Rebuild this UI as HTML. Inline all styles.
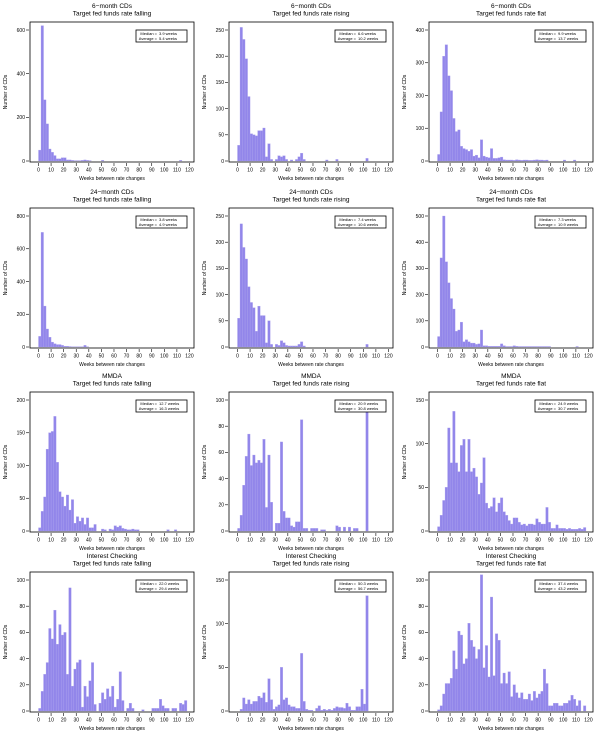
<!DOCTYPE html>
<html><head><meta charset="utf-8"><style>
html,body{margin:0;padding:0;background:#fff;}
svg{display:block;font-family:"Liberation Sans",sans-serif;}
</style></head><body>
<svg id="chart" width="600" height="740" viewBox="0 0 600 740" xmlns="http://www.w3.org/2000/svg"></svg>
<script>
const titles1 = ["6\u2212month CDs","6\u2212month CDs","6\u2212month CDs","24\u2212month CDs","24\u2212month CDs","24\u2212month CDs","MMDA","MMDA","MMDA","Interest Checking","Interest Checking","Interest Checking"];
const titles2 = ["Target fed funds rate falling","Target fed funds rate rising","Target fed funds rate flat"];
const medians = ["3.9","6.6","9.9","3.8","7.4","7.3","12.7","20.9","24.9","22.0","50.3","37.4"];
const averages = ["5.4","10.2","13.7","4.9","10.6","10.9","16.3","30.8","30.7","29.4","56.7","43.2"];
const yTickMax = [600,250,400,800,250,500,200,100,150,100,150,100];
const yTickStep = [200,50,100,200,50,100,50,20,50,20,50,20];
const xTicks = [0,10,20,30,40,50,60,70,80,90,100,110,120];
const binWidth = 2;
function pad(a){const r=a.slice();while(r.length<60)r.push(0);return r;}
const counts1 = pad([50,620,280,170,55,40,25,10,10,15,15,5,5,3,2,2,2,3,5,3,2,0,0,0,0,3,0,0,0,0,0,0,0,0,0,0,0,0,0,0,0,0,0,0,0,0,0,0,0,0,0,0,0,0,0,0,3]);
const counts2 = pad([30,255,232,195,123,52,50,48,58,58,63,8,33,3,0,3,10,8,10,3,0,2,0,3,8,15,3,0,0,0,0,0,0,0,0,2,0,0,0,3,0,0,0,0,0,0,0,0,0,0,0,5]);
const counts3 = pad([20,150,320,355,260,215,130,90,95,45,38,35,30,35,15,18,10,65,15,12,10,38,8,8,10,12,4,3,3,3,2,4,3,2,3,3,2,2,3,4,3,3,2,3,0,0,0,0,0,0,3,0,0,0,3]);
const counts4 = pad([65,700,250,110,60,30,20,15,15,10,5,5,3,2,2,2,2,2,10,2]);
const counts5 = pad([55,235,190,168,115,85,75,30,78,60,60,8,50,5,0,5,3,12,8,3,2,2,2,2,5,10,2,0,0,0,0,0,0,0,0,0,0,0,0,0,0,0,0,0,0,0,0,0,0,0,0,5]);
const counts6 = pad([40,340,500,325,245,185,145,60,65,95,20,28,20,15,15,10,12,65,5,5,3,3,3,3,3,12,5,2,2,2,5,3,2,2,2,2,2,2,2,2,2,2,2,2,2,0,0,0,0,0,0,0,0,0,0,2]);
const counts7 = pad([5,30,52,125,150,152,175,105,60,52,38,55,32,48,12,22,15,20,10,20,5,5,10,0,0,3,2,0,3,2,8,6,8,4,3,2,2,3,2,2,0,0,0,0,0,0,0,0,0,0,0,2,0,0,2]);
const counts8 = pad([2,12,35,57,74,50,58,52,54,52,70,18,58,22,0,6,6,68,15,10,10,4,3,7,7,85,2,2,0,2,2,2,0,1,1,0,0,0,0,4,3,0,3,0,3,0,2,2,0,0,0,100]);
const counts9 = pad([5,18,35,50,118,78,137,78,68,98,105,68,105,68,72,62,42,55,84,32,26,28,38,22,32,38,22,18,12,8,15,15,10,7,8,6,8,8,7,14,10,8,8,27,10,3,3,7,3,3,3,2,3,2,2,2,3,2,4]);
const counts10 = pad([2,15,28,37,63,55,77,51,66,58,60,28,94,19,32,37,39,3,19,11,23,37,5,0,6,14,9,17,11,19,3,9,30,8,0,2,6,2,0,0,0,1,0,0,0,2,2,2,9,4,2,2,0,2,2,0,6,5,8]);
const counts11 = pad([0,2,15,8,13,8,11,11,17,15,21,10,37,13,2,5,7,50,13,15,7,5,5,3,3,66,11,2,1,1,0,3,6,1,2,1,2,1,3,5,4,4,3,9,5,1,1,5,5,25,8,132]);
const counts12 = pad([1,4,13,21,21,25,46,32,61,58,36,40,67,54,49,40,47,104,33,50,26,87,27,59,54,21,29,21,30,11,20,14,10,14,9,9,13,8,15,10,13,15,32,21,4,4,6,6,4,4,6,6,8,12,9,4,8,0,4]);
const allCounts = [counts1,counts2,counts3,counts4,counts5,counts6,counts7,counts8,counts9,counts10,counts11,counts12];

const NS="http://www.w3.org/2000/svg";
const svg=document.getElementById('chart');
function mk(tag,attrs,parent){const e=document.createElementNS(NS,tag);for(const k in attrs)e.setAttribute(k,attrs[k]);(parent||svg).appendChild(e);return e;}
const colX=[0,199,399], rowY=[0,186,370,550];
const FL=30,FR=194,FT=22,FB=162;
for(let p=0;p<12;p++){
  const ox=colX[p%3], oy=rowY[Math.floor(p/3)];
  const g=mk('g',{transform:`translate(${ox},${oy})`});
  
  
  const xs=w=>38.5+w*1.258;
  const ys=v=>161-v/yTickMax[p]*131;
  let t=mk('text',{x:112,y:8,'font-size':6.5,'text-anchor':'middle',fill:'#000'},g);t.textContent=titles1[p];
  
  
  t=mk('text',{x:112,y:15.5,'font-size':6.5,'text-anchor':'middle',fill:'#000'},g);t.textContent=titles2[p%3];
  
  
  const cts=allCounts[p];
  for(let i=0;i<cts.length;i++){
    if(!cts[i])continue;
    const x0=xs(i*binWidth),x1=xs((i+1)*binWidth),y=Math.max(ys(cts[i]),FT);
    const r=mk('rect',{x:x0,y:y,width:x1-x0,height:161-y,fill:'#9286ea',stroke:'#aea5ee','stroke-width':0.3},g);
    
    
  }
  const f=mk('rect',{x:FL,y:FT,width:FR-FL,height:FB-FT,fill:'none',stroke:'#000','stroke-width':0.8},g);
  
  
  for(let v=0;v<=yTickMax[p];v+=yTickStep[p]){
    mk('line',{x1:26,x2:29,y1:ys(v),y2:ys(v),stroke:'#000','stroke-width':0.6},g);
    const tl=mk('text',{x:25,y:ys(v)+1.8,'font-size':5,'text-anchor':'end',fill:'#000'},g);tl.textContent=v;
    
    
  }
  for(const v of xTicks){
    mk('line',{x1:xs(v),x2:xs(v),y1:163,y2:166,stroke:'#000','stroke-width':0.6},g);
    const tl=mk('text',{x:xs(v),y:171.5,'font-size':5,'text-anchor':'middle',fill:'#000'},g);tl.textContent=v;
    
    
  }
  t=mk('text',{x:112,y:180,'font-size':5,'text-anchor':'middle',fill:'#000'},g);t.textContent='Weeks between rate changes';
  
  
  t=mk('text',{x:0,y:0,'font-size':5,'text-anchor':'middle',fill:'#000',transform:'translate(7,92) rotate(-90)'},g);t.textContent='Number of CDs';
  
  
  const lg=mk('g',{},g);
  
  
  mk('rect',{x:136,y:30,width:51,height:12,fill:'#fff',stroke:'#000','stroke-width':0.8},lg);
  t=mk('text',{x:157,y:35,'font-size':4,'text-anchor':'end',fill:'#000'},lg);t.textContent='Median =';
  t=mk('text',{x:159,y:35,'font-size':4,fill:'#000'},lg);t.textContent=medians[p]+' weeks';
  t=mk('text',{x:157,y:40,'font-size':4,'text-anchor':'end',fill:'#000'},lg);t.textContent='Average =';
  t=mk('text',{x:159,y:40,'font-size':4,fill:'#000'},lg);t.textContent=averages[p]+' weeks';
}
</script>
</body></html>
